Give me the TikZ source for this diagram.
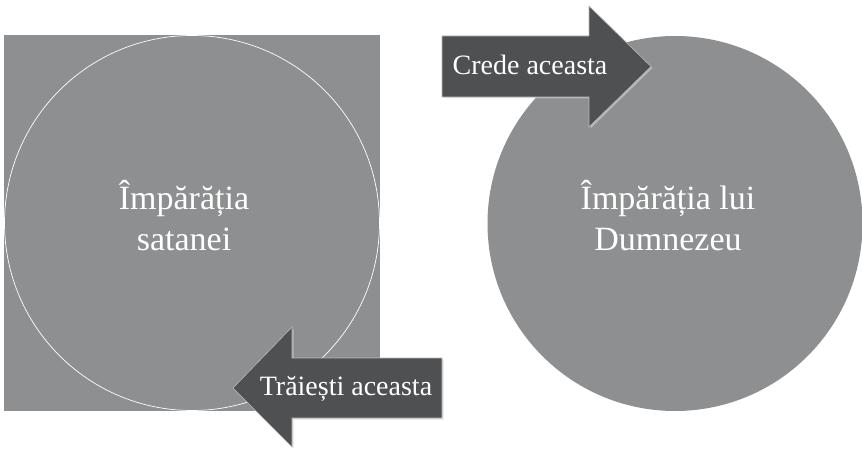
\documentclass[tikz,border=0pt]{standalone}
\usepackage{fontspec}
\setmainfont{Liberation Serif}
\newfontfamily\timesfont{Liberation Serif}
\definecolor{midgrey}{HTML}{8E8F91}
\definecolor{darkgrey}{HTML}{4F5052}
\definecolor{edgegrey}{HTML}{B8B9BB}
\definecolor{shadowgrey}{HTML}{D4D4D6}
\tikzset{
  kingdom/.style={circle, fill=midgrey, inner sep=0pt, minimum size=375pt},
  bigtext/.style={text=white, align=center, font=\timesfont\fontsize{34}{41}\selectfont},
  arrowbody/.style={fill=darkgrey, draw=edgegrey, line width=0.6pt},
  arrowshadow/.style={fill=shadowgrey, opacity=0.6},
  arrowtext/.style={text=white, font=\timesfont\fontsize{28}{33}\selectfont, inner sep=0pt}
}
\begin{document}
\begin{tikzpicture}[x=1pt,y=-1pt]
\useasboundingbox (0,0) rectangle (862,449);
% left square with inscribed circle
\fill[midgrey] (4,35) rectangle (380,411);
\node[kingdom, draw=white, line width=0.7pt] (satan) at (192,223) {};
\node[bigtext] (satantext) at (184,216) {Împărăția\\satanei};
% right circle
\node[kingdom] (god) at (675,223.5) {};
\node[bigtext] (godtext) at (668,216) {Împărăția lui\\Dumnezeu};
% left arrow
\begin{scope}[shift={(1.5,1.5)}]
\fill[arrowshadow] (442,358) -- (292,358) -- (292,327) -- (233,388) -- (292,447) -- (292,418) -- (442,418) -- cycle;
\end{scope}
\draw[arrowbody] (442,358) -- (292,358) -- (292,327) -- (233,388) -- (292,447) -- (292,418) -- (442,418) -- cycle;
\node[arrowtext] (live) at (346,389) {Trăiești aceasta};
% right arrow
\begin{scope}[shift={(1.5,1.5)}]
\fill[arrowshadow] (442,36) -- (589,36) -- (589,6) -- (651,66.5) -- (589,127) -- (589,97) -- (442,97) -- cycle;
\end{scope}
\draw[arrowbody] (442,36) -- (589,36) -- (589,6) -- (651,66.5) -- (589,127) -- (589,97) -- (442,97) -- cycle;
\node[arrowtext] (believe) at (530,65) {Crede aceasta};
\end{tikzpicture}
\end{document}
